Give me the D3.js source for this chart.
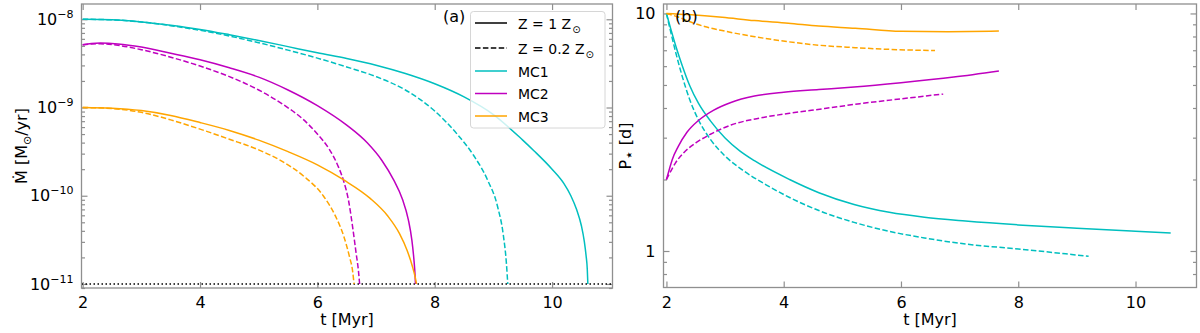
<!DOCTYPE html>
<html>
<head>
<meta charset="utf-8">
<script src="https://cdn.jsdelivr.net/npm/d3@7"></script>
<style>
  body { margin: 0; background: #fff; }
  svg { display: block; font-family: 'DejaVu Sans', sans-serif; }
</style>
</head>
<body>
<svg id="chart" width="1200" height="333"></svg>
<script>
// ---- data ----
var xTicks = [2, 4, 6, 8, 10];
var mdotTicks = [1e-11, 1e-10, 1e-9, 1e-8];
var periodTicks = [1, 10];
var mdotFloor = 1e-11;

var seriesNames = ['MC1', 'MC2', 'MC3'];
var metalLabels = ['Z = 1 Z', 'Z = 0.2 Z'];

// accretion rate [t (Myr), Mdot (Msun/yr)]
var mc1MdotZ1 = [[2.0,1.00e-8],[2.5,9.86e-9],[3.0,9.33e-9],[3.5,8.55e-9],[4.0,7.67e-9],[4.5,6.68e-9],
  [5.0,5.75e-9],[5.5,4.90e-9],[6.0,4.17e-9],[6.5,3.59e-9],[7.0,3.02e-9],[7.5,2.43e-9],[8.0,1.86e-9],
  [8.5,1.32e-9],[9.0,8.32e-10],[9.5,4.27e-10],[9.69,3.24e-10],[10.0,2.00e-10],[10.2,1.38e-10],
  [10.32,1.00e-10],[10.42,6.92e-11],[10.5,4.57e-11],[10.55,3.02e-11],[10.58,2.09e-11],
  [10.6,1.48e-11],[10.61,1.00e-11]];
var mc1MdotZ02 = [[2.0,1.00e-8],[2.5,9.86e-9],[3.0,9.33e-9],[3.5,8.47e-9],[4.0,7.50e-9],[4.5,6.46e-9],
  [5.0,5.43e-9],[5.5,4.47e-9],[6.0,3.63e-9],[6.5,2.88e-9],[7.0,2.24e-9],[7.5,1.58e-9],[8.0,9.12e-10],
  [8.38,5.01e-10],[8.67,2.82e-10],[8.9,1.51e-10],[9.07,7.59e-11],[9.17,3.55e-11],[9.22,1.78e-11],[9.245,1.00e-11]];
var mc2MdotZ1 = [[2.0,5.13e-9],[2.15,5.31e-9],[2.3,5.37e-9],[2.6,5.25e-9],[3.0,4.84e-9],[3.5,4.12e-9],
  [4.0,3.47e-9],[4.5,2.82e-9],[5.0,2.21e-9],[5.5,1.58e-9],[6.0,1.05e-9],[6.5,6.31e-10],[6.85,3.98e-10],
  [7.1,2.51e-10],[7.3,1.51e-10],[7.45,9.12e-11],[7.55,5.37e-11],[7.61,3.16e-11],[7.645,1.91e-11],
  [7.665,1.26e-11],[7.672,1.00e-11]];
var mc2MdotZ02 = [[2.0,5.13e-9],[2.15,5.25e-9],[2.3,5.27e-9],[2.6,5.07e-9],[3.0,4.52e-9],[3.5,3.72e-9],
  [4.0,2.95e-9],[4.5,2.24e-9],[5.0,1.58e-9],[5.4,1.10e-9],[5.75,7.41e-10],[6.0,5.01e-10],[6.2,3.39e-10],
  [6.35,2.19e-10],[6.45,1.45e-10],[6.53,8.91e-11],[6.6,4.47e-11],[6.66,2.24e-11],[6.7,1.41e-11],[6.72,1.00e-11]];
var mc3MdotZ1 = [[2.0,1.00e-9],[2.5,9.82e-10],[3.0,9.23e-10],[3.5,8.13e-10],[4.0,6.76e-10],[4.5,5.50e-10],
  [5.0,4.27e-10],[5.5,3.16e-10],[6.0,2.24e-10],[6.45,1.51e-10],[6.9,9.33e-11],[7.2,5.89e-11],
  [7.4,3.72e-11],[7.53,2.40e-11],[7.62,1.58e-11],[7.67,1.17e-11],[7.69,1.00e-11]];
var mc3MdotZ02 = [[2.0,1.00e-9],[2.5,9.73e-10],[3.0,8.81e-10],[3.5,7.24e-10],[4.0,5.69e-10],[4.5,4.37e-10],
  [5.0,3.31e-10],[5.4,2.45e-10],[5.77,1.66e-10],[6.1,1.00e-10],[6.3,6.03e-11],[6.45,3.47e-11],
  [6.55,2.00e-11],[6.6,1.41e-11],[6.625,1.00e-11]];

// stellar rotation period [t (Myr), P (d)]
var mc1PeriodZ1 = [[2.0,10.0],[2.08,8.51],[2.17,7.16],[2.27,6.03],[2.4,4.95],[2.55,4.17],[2.75,3.53],
  [3.0,2.99],[3.25,2.64],[3.5,2.40],[4.1,2.00],[4.6,1.76],[5.2,1.57],[5.8,1.455],[6.4,1.387],[7.1,1.337],
  [8.0,1.288],[9.0,1.247],[10.0,1.211],[10.6,1.191]];
var mc1PeriodZ02 = [[2.0,10.0],[2.08,8.22],[2.17,6.68],[2.27,5.43],[2.4,4.32],[2.55,3.55],[2.75,2.95],
  [3.0,2.51],[3.3,2.19],[3.7,1.90],[4.1,1.68],[4.6,1.48],[5.2,1.32],[5.8,1.21],[6.4,1.135],[7.1,1.07],
  [8.0,1.02],[9.2,0.95]];
var mc2PeriodZ1 = [[2.0,2.00],[2.05,2.21],[2.1,2.43],[2.2,2.75],[2.35,3.16],[2.55,3.55],[2.8,3.91],
  [3.1,4.22],[3.5,4.49],[4.0,4.66],[4.6,4.78],[5.2,4.90],[6.0,5.11],[6.9,5.40],[7.67,5.73]];
var mc2PeriodZ02 = [[2.0,2.00],[2.07,2.16],[2.15,2.34],[2.3,2.60],[2.5,2.85],[2.75,3.10],[3.1,3.39],
  [3.6,3.63],[4.1,3.80],[4.7,3.98],[5.3,4.17],[6.0,4.37],[6.72,4.58]];
var mc3PeriodZ1 = [[2.0,10.0],[2.37,9.89],[2.95,9.64],[3.5,9.33],[4.08,9.10],[4.6,8.85],[5.22,8.67],
  [6.0,8.41],[6.8,8.38],[7.67,8.43]];
var mc3PeriodZ02 = [[2.0,10.0],[2.2,9.66],[2.37,9.29],[2.65,8.81],[2.95,8.47],[3.51,7.98],[4.08,7.60],
  [4.6,7.35],[5.22,7.18],[5.8,7.06],[6.58,6.98]];

// ---- style ----
var colors = { MC1: '#00bfbf', MC2: '#bf00bf', MC3: '#ffa500' };
var frameColor = '#8f8f8f';
var dash = '5.5,2.4';

var svg = d3.select('#chart');

function drawPanel(cfg) {
  var x = d3.scaleLinear().domain(cfg.xDomain).range([cfg.left, cfg.right]);
  var y = d3.scaleLog().domain(cfg.yDomain).range([cfg.bottom, cfg.top]);
  var g = svg.append('g');

  var minors = y.ticks().filter(function(v) {
    return cfg.yTicks.indexOf(v) < 0;
  });

  function styleAxis(sel) {
    sel.select('.domain').remove();
    sel.selectAll('.tick line').attr('stroke', frameColor).attr('stroke-width', 1.2);
    sel.selectAll('.tick text').attr('fill', '#000').attr('font-size', 16)
      .attr('font-family', "'DejaVu Sans', sans-serif");
  }

  // x axes (bottom + top)
  g.append('g')
    .attr('transform', 'translate(0,' + cfg.bottom + ')')
    .call(d3.axisBottom(x).tickValues(xTicks).tickSize(-6).tickPadding(9).tickFormat(d3.format('d')))
    .call(styleAxis);
  g.append('g')
    .attr('transform', 'translate(0,' + cfg.top + ')')
    .call(d3.axisTop(x).tickValues(xTicks).tickSize(-6).tickFormat(''))
    .call(styleAxis);

  // y axes (left + right), major and minor
  var yLeft = g.append('g')
    .attr('transform', 'translate(' + cfg.left + ',0)')
    .call(d3.axisLeft(y).tickValues(cfg.yTicks).tickSize(-6).tickPadding(8).tickFormat(cfg.yFormat))
    .call(styleAxis);
  g.append('g')
    .attr('transform', 'translate(' + cfg.left + ',0)')
    .call(d3.axisLeft(y).tickValues(minors).tickSize(-3.5).tickFormat(''))
    .call(styleAxis);
  g.append('g')
    .attr('transform', 'translate(' + cfg.right + ',0)')
    .call(d3.axisRight(y).tickValues(cfg.yTicks).tickSize(-6).tickFormat(''))
    .call(styleAxis);
  g.append('g')
    .attr('transform', 'translate(' + cfg.right + ',0)')
    .call(d3.axisRight(y).tickValues(minors).tickSize(-3.5).tickFormat(''))
    .call(styleAxis);

  if (cfg.superscript) {
    yLeft.selectAll('.tick text').each(function(d) {
      var t = d3.select(this);
      var exp = Math.round(Math.log10(d));
      t.text('');
      t.append('tspan').text('10');
      t.append('tspan').attr('dy', -7).attr('font-size', 11).text('\u2212' + Math.abs(exp));
    });
  }

  // clip for curves
  g.append('clipPath').attr('id', cfg.id + '-clip')
    .append('rect')
      .attr('x', cfg.left).attr('y', cfg.top)
      .attr('width', cfg.right - cfg.left).attr('height', cfg.bottom - cfg.top);

  var lineGen = d3.line()
    .curve(d3.curveMonotoneX)
    .x(function(d) { return x(d[0]); })
    .y(function(d) { return y(d[1]); });

  var plot = g.append('g').attr('clip-path', 'url(#' + cfg.id + '-clip)');

  if (cfg.floor) {
    plot.append('line')
      .attr('x1', cfg.left).attr('x2', cfg.right)
      .attr('y1', y(cfg.floor)).attr('y2', y(cfg.floor))
      .attr('stroke', '#000').attr('stroke-width', 1.5)
      .attr('stroke-dasharray', '1.5,2.5');
  }

  cfg.series.forEach(function(s) {
    plot.append('path')
      .datum(s.data)
      .attr('fill', 'none')
      .attr('stroke', colors[s.name])
      .attr('stroke-width', 1.5)
      .attr('stroke-dasharray', s.dashed ? dash : null)
      .attr('d', lineGen);
  });

  // frame
  g.append('rect')
    .attr('x', cfg.left).attr('y', cfg.top)
    .attr('width', cfg.right - cfg.left).attr('height', cfg.bottom - cfg.top)
    .attr('fill', 'none').attr('stroke', frameColor).attr('stroke-width', 1.3);

  // x label
  g.append('text')
    .attr('x', (cfg.left + cfg.right) / 2).attr('y', 325)
    .attr('text-anchor', 'middle').attr('font-size', 16)
    .text('t [Myr]');

  // panel tag
  g.append('text')
    .attr('x', cfg.tagX).attr('y', 22)
    .attr('font-size', 16)
    .text(cfg.tag);

  return { x: x, y: y, g: g };
}

var left = drawPanel({
  id: 'pa', tag: '(a)', tagX: 443,
  left: 81.5, right: 612.5, top: 4, bottom: 288,
  xDomain: [1.98, 11.03], yDomain: [9.0e-12, 1.49e-8],
  yTicks: mdotTicks, yFormat: function() { return ''; }, superscript: true,
  floor: mdotFloor,
  series: [
    { name: 'MC1', data: mc1MdotZ1 }, { name: 'MC1', data: mc1MdotZ02, dashed: true },
    { name: 'MC2', data: mc2MdotZ1 }, { name: 'MC2', data: mc2MdotZ02, dashed: true },
    { name: 'MC3', data: mc3MdotZ1 }, { name: 'MC3', data: mc3MdotZ02, dashed: true }
  ]
});

var right = drawPanel({
  id: 'pb', tag: '(b)', tagX: 675,
  left: 663.5, right: 1196.5, top: 4, bottom: 287.5,
  xDomain: [1.95, 11.04], yDomain: [0.702, 10.96],
  yTicks: periodTicks, yFormat: d3.format('d'), superscript: false,
  series: [
    { name: 'MC1', data: mc1PeriodZ1 }, { name: 'MC1', data: mc1PeriodZ02, dashed: true },
    { name: 'MC2', data: mc2PeriodZ1 }, { name: 'MC2', data: mc2PeriodZ02, dashed: true },
    { name: 'MC3', data: mc3PeriodZ1 }, { name: 'MC3', data: mc3PeriodZ02, dashed: true }
  ]
});

// y labels
var yl = svg.append('text')
  .attr('transform', 'translate(27,146) rotate(-90)')
  .attr('text-anchor', 'middle').attr('font-size', 16);
yl.append('tspan').text('\u1E40 [M');
yl.append('tspan').attr('font-size', 11).attr('dy', 4).text('\u2299');
yl.append('tspan').attr('dy', -4).text('/yr]');

var yr = svg.append('text')
  .attr('transform', 'translate(631,146) rotate(-90)')
  .attr('text-anchor', 'middle').attr('font-size', 16);
yr.append('tspan').text('P');
yr.append('tspan').attr('font-size', 15).attr('dy', 3).text('\u22C6');
yr.append('tspan').attr('dy', -3).text(' [d]');

// legend
var legend = svg.append('g');
legend.append('rect')
  .attr('x', 470.5).attr('y', 11.5).attr('width', 134.5).attr('height', 116.5).attr('rx', 3)
  .attr('fill', '#fff').attr('fill-opacity', 0.8)
  .attr('stroke', '#d6d6d6').attr('stroke-width', 1);

var legendItems = [
  { label: metalLabels[0], color: '#000', dashed: false, sun: true },
  { label: metalLabels[1], color: '#000', dashed: true, sun: true }
].concat(seriesNames.map(function(n) {
  return { label: n, color: colors[n], dashed: false, sun: false };
}));
var rowY = [23, 48, 71, 93.5, 116];

legendItems.forEach(function(item, i) {
  var yy = rowY[i];
  legend.append('line')
    .attr('x1', 475).attr('x2', 507).attr('y1', yy).attr('y2', yy)
    .attr('stroke', item.color).attr('stroke-width', 1.5)
    .attr('stroke-dasharray', item.dashed ? dash : null);
  var t = legend.append('text')
    .attr('x', 518).attr('y', yy + 5.5).attr('font-size', 14);
  t.append('tspan').text(item.label);
  if (item.sun) {
    t.append('tspan').attr('font-size', 10).attr('dy', 4).attr('dx', 1).text('\u2299');
  }
});
</script>
</body>
</html>
